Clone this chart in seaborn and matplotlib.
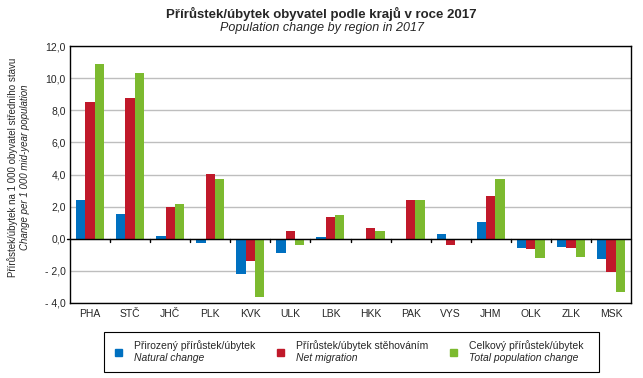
import pandas as pd
import numpy as np
import seaborn as sns
import matplotlib.pyplot as plt
from matplotlib.patches import Rectangle
from matplotlib.ticker import FuncFormatter, MultipleLocator

# data (per 1 000 mid-year population)
regions = ["PHA", "STČ", "JHČ", "PLK", "KVK", "ULK", "LBK",
           "HKK", "PAK", "VYS", "JHM", "OLK", "ZLK", "MSK"]
natural = [2.44, 1.56, 0.19, -0.29, -2.19, -0.88, 0.12,
           -0.10, 0.01, 0.31, 1.06, -0.56, -0.50, -1.25]
migration = [8.50, 8.75, 2.00, 4.06, -1.38, 0.50, 1.38,
             0.69, 2.44, -0.38, 2.69, -0.63, -0.56, -2.06]
total = [10.87, 10.31, 2.19, 3.75, -3.62, -0.38, 1.50,
         0.50, 2.44, -0.05, 3.75, -1.19, -1.13, -3.31]

series_cz = ["Přirozený přírůstek/úbytek", "Přírůstek/úbytek stěhováním",
             "Celkový přírůstek/úbytek"]
series_en = ["Natural change", "Net migration", "Total population change"]
colors = ["#0070C0", "#C0192A", "#7CBA2F"]

df = pd.DataFrame({
    "region": regions * 3,
    "value": natural + migration + total,
    "series": [series_cz[0]] * 14 + [series_cz[1]] * 14 + [series_cz[2]] * 14,
})

sns.set_style("white")
plt.rcParams["font.family"] = ["Liberation Sans", "DejaVu Sans"]

fig = plt.figure(figsize=(6.43, 3.78), dpi=100)
ax = fig.add_axes([70 / 643, 1 - 303 / 378, 561 / 643, 257 / 378])

sns.barplot(data=df, x="region", y="value", hue="series", palette=colors,
            width=0.7, gap=0, saturation=1, legend=False, ax=ax, zorder=3,
            linewidth=0, edgecolor="none")

ax.set_ylim(-4, 12)
ax.set_xlim(-0.5, 13.5)
ax.yaxis.set_major_locator(MultipleLocator(2))
ax.yaxis.set_major_formatter(FuncFormatter(
    lambda v, p: ("- " + f"{abs(v):.1f}" if v < 0 else f"{v:.1f}").replace(".", ",")))
ax.grid(axis="y", color="#BEBEBE", linewidth=1, zorder=0)
# zero line, poking a little past the left spine as in the original
ax.plot([-0.58, 13.5], [0, 0], color="black", linewidth=1, zorder=4,
        clip_on=False)

ax.set_xticks(np.arange(14))
ax.set_xticklabels(regions)
ax.tick_params(axis="x", length=0, labelsize=7.5, pad=4)
ax.tick_params(axis="y", labelsize=7.5, length=0, pad=3)
ax.set_xlabel("")
ax.set_ylabel("")
for s in ax.spines.values():
    s.set_color("black")
    s.set_linewidth(1)

# small ticks between the groups, hanging from the zero line
for xm in np.arange(0.5, 13.5, 1):
    ax.plot([xm, xm], [0, -0.22], color="black", linewidth=1, zorder=5,
            clip_on=False)

fig.text(0.5, 1 - 14 / 378, "Přírůstek/úbytek obyvatel podle krajů v roce 2017",
         ha="center", va="center", fontsize=9.5, fontweight="bold")
fig.text(0.5, 1 - 28 / 378, "Population change by region in 2017",
         ha="center", va="center", fontsize=9, style="italic")

fig.text(13 / 643, 1 - 167 / 378, "Přírůstek/úbytek na 1 000 obyvatel středního stavu",
         rotation=90, ha="center", va="center", fontsize=7)
fig.text(25 / 643, 1 - 167 / 378, "Change per 1 000 mid-year population",
         rotation=90, ha="center", va="center", fontsize=7, style="italic")

# legend box
W, H = 643, 378
fig.patches.append(Rectangle((104 / W, 1 - 372 / H), 495 / W, 40 / H,
                             transform=fig.transFigure, fill=False,
                             edgecolor="black", linewidth=0.8))
xs = [115, 277, 450]
for i in range(3):
    fig.patches.append(Rectangle((xs[i] / W, 1 - 356 / H), 7 / W, 7 / H,
                                 transform=fig.transFigure, color=colors[i]))
    fig.text((xs[i] + 19) / W, 1 - 346 / H, series_cz[i], ha="left",
             va="center", fontsize=7.5)
    fig.text((xs[i] + 19) / W, 1 - 358 / H, series_en[i], ha="left",
             va="center", fontsize=7.5, style="italic")

fig.savefig("out.png", dpi=100)
